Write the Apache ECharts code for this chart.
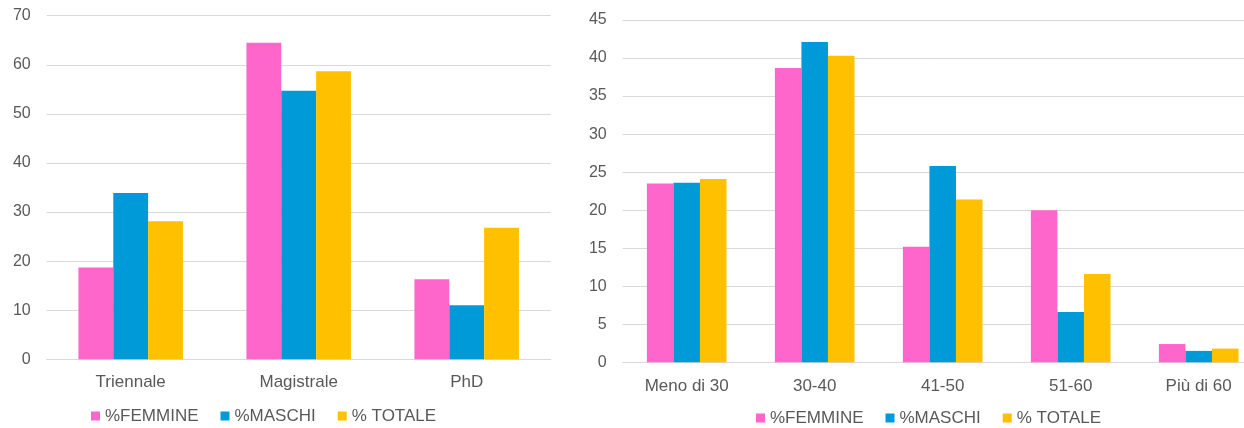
<!DOCTYPE html>
<html>
<head>
<meta charset="utf-8">
<script src="https://cdn.jsdelivr.net/npm/echarts@6/dist/echarts.min.js"></script>
<style>
html,body{margin:0;padding:0;background:#fff;}
#c{width:1244px;height:428px;}
</style>
</head>
<body>
<div id="c"></div>
<script>
// Left chart: by degree
var degreeCategories = ['Triennale', 'Magistrale', 'PhD'];
var degreeFemmine = [18.7, 64.5, 16.3];
var degreeMaschi = [33.9, 54.7, 11.0];
var degreeTotale = [28.1, 58.7, 26.8];
var degreeTicks = {min: 0, max: 70, interval: 10};

// Right chart: by age
var ageCategories = ['Meno di 30', '30-40', '41-50', '51-60', 'Più di 60'];
var ageFemmine = [23.5, 38.7, 15.2, 20.0, 2.4];
var ageMaschi = [23.6, 42.1, 25.8, 6.6, 1.5];
var ageTotale = [24.1, 40.3, 21.4, 11.6, 1.8];
var ageTicks = {min: 0, max: 45, interval: 5};

var seriesNames = ['%FEMMINE', '%MASCHI', '% TOTALE'];
var colors = ['#FF66CC', '#009AD8', '#FFC000'];

var FONT = '"Liberation Sans", Arial, sans-serif';
var TEXT = '#595959';
var GRID = '#D9D9D9';

function xAxis(idx, cats, margin) {
  return {
    type: 'category', gridIndex: idx, data: cats,
    axisTick: {show: false},
    axisLine: {lineStyle: {color: GRID, width: 1}},
    axisLabel: {color: TEXT, fontSize: 17, fontFamily: FONT, margin: margin}
  };
}
function yAxis(idx, t) {
  return {
    type: 'value', gridIndex: idx, min: t.min, max: t.max, interval: t.interval,
    axisLine: {show: false}, axisTick: {show: false},
    splitLine: {lineStyle: {color: GRID, width: 1}},
    axisLabel: {color: TEXT, fontSize: 16, fontFamily: FONT, margin: 16}
  };
}
function bars(idx, data) {
  return data.map(function (d, i) {
    return {
      name: seriesNames[i], type: 'bar', xAxisIndex: idx, yAxisIndex: idx,
      data: d, barGap: '0%', barCategoryGap: '37.8%',
      itemStyle: {color: colors[i]}, animation: false
    };
  });
}
function legend(left, top) {
  return {
    data: seriesNames, left: left, top: top, padding: 0,
    itemWidth: 9, itemHeight: 9, itemGap: 22, icon: 'rect',
    textStyle: {color: TEXT, fontSize: 17, fontFamily: FONT}
  };
}

var chart = echarts.init(document.getElementById('c'), null, {renderer: 'canvas'});
chart.setOption({
  animation: false,
  color: colors,
  grid: [
    {left: 46.7, top: 15.7, width: 504, height: 343.6, outerBoundsMode: 'none', containLabel: false},
    {left: 622.7, top: 20, width: 640, height: 342.3, outerBoundsMode: 'none', containLabel: false}
  ],
  legend: [legend(91, 407.5), legend(756, 409.5)],
  xAxis: [xAxis(0, degreeCategories, 15), xAxis(1, ageCategories, 16)],
  yAxis: [yAxis(0, degreeTicks), yAxis(1, ageTicks)],
  series: bars(0, [degreeFemmine, degreeMaschi, degreeTotale])
    .concat(bars(1, [ageFemmine, ageMaschi, ageTotale]))
});
</script>
</body>
</html>
